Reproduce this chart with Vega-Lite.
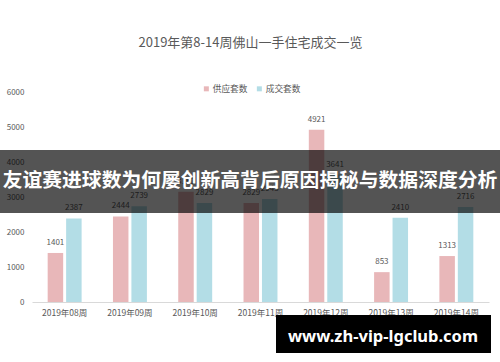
{
  "$schema": "https://vega.github.io/schema/vega-lite/v6.json",
  "width": 457,
  "height": 210,
  "autosize": "none",
  "padding": {"left": 32, "top": 92, "right": 11, "bottom": 60},
  "background": "white",
  "config": {
    "font": "Noto Sans CJK SC",
    "view": {"stroke": null}
  },
  "title": {
    "text": "2019年第8-14周佛山一手住宅成交一览",
    "fontSize": 13,
    "fontWeight": "normal",
    "color": "#595959",
    "anchor": "middle",
    "offset": 34,
    "dx": -10
  },
  "datasets": {
    "weeks": [
      {"week": "2019年08周", "series": "供应套数", "value": 1401},
      {"week": "2019年08周", "series": "成交套数", "value": 2387},
      {"week": "2019年09周", "series": "供应套数", "value": 2444},
      {"week": "2019年09周", "series": "成交套数", "value": 2739},
      {"week": "2019年10周", "series": "供应套数", "value": 3151},
      {"week": "2019年10周", "series": "成交套数", "value": 2829},
      {"week": "2019年11周", "series": "供应套数", "value": 2829},
      {"week": "2019年11周", "series": "成交套数", "value": 2943},
      {"week": "2019年12周", "series": "供应套数", "value": 4921},
      {"week": "2019年12周", "series": "成交套数", "value": 3641},
      {"week": "2019年13周", "series": "供应套数", "value": 853},
      {"week": "2019年13周", "series": "成交套数", "value": 2410},
      {"week": "2019年14周", "series": "供应套数", "value": 1313},
      {"week": "2019年14周", "series": "成交套数", "value": 2716}
    ],
    "one": [{"k": 1}]
  },
  "layer": [
    {
      "data": {"name": "weeks"},
      "encoding": {
        "x": {
          "field": "week",
          "type": "nominal",
          "sort": null,
          "scale": {"paddingInner": 0.48, "paddingOuter": 0.24},
          "axis": {
            "title": null,
            "labelAngle": 0,
            "labelFontSize": 8.5,
            "labelColor": "#595959",
            "labelPadding": 6,
            "ticks": false,
            "domainColor": "#d9d9d9",
            "domainWidth": 1
          }
        },
        "y": {
          "field": "value",
          "type": "quantitative",
          "scale": {"domain": [0, 6000], "nice": false},
          "axis": {
            "title": null,
            "values": [0, 1000, 2000, 3000, 4000, 5000, 6000],
            "labelExpr": "replace(datum.label, ',', '')",
            "labelOverlap": false,
            "labelFontSize": 8,
            "labelColor": "#595959",
            "labelPadding": 8,
            "ticks": false,
            "domain": false,
            "grid": false
          }
        },
        "xOffset": {
          "field": "series",
          "type": "nominal",
          "sort": ["供应套数", "成交套数"],
          "scale": {"paddingInner": 0.16, "paddingOuter": 0}
        }
      },
      "layer": [
        {
          "mark": {"type": "bar"},
          "encoding": {
            "color": {
              "field": "series",
              "type": "nominal",
              "sort": ["供应套数", "成交套数"],
              "scale": {"domain": ["供应套数", "成交套数"], "range": ["#e8b7b9", "#b3dde6"]},
              "legend": {
                "title": null,
                "orient": "none",
                "legendX": 170,
                "legendY": -8,
                "direction": "horizontal",
                "symbolType": "square",
                "symbolSize": 25,
                "labelFontSize": 8.7,
                "labelColor": "#595959",
                "labelOffset": 2,
                "columnPadding": 7,
                "symbolStrokeWidth": 0
              }
            }
          }
        },
        {
          "mark": {"type": "text", "dy": -6, "fontSize": 8, "color": "#595959", "baseline": "bottom"},
          "encoding": {
            "text": {"field": "value", "type": "quantitative", "format": "d"}
          }
        }
      ]
    },
    {
      "data": {"name": "one"},
      "mark": {"type": "rect", "x": -32, "x2": {"expr": "width + 11"}, "y": {"expr": "scale('y', 4343)"}, "y2": {"expr": "scale('y', 2543)"}, "color": "#000000", "opacity": 0.67},
      "encoding": {}
    },
    {
      "data": {"name": "one"},
      "mark": {"type": "text", "x": {"expr": "width / 2 - 10.5"}, "y": {"expr": "scale('y', 3460)"}, "text": "友谊赛进球数为何屡创新高背后原因揭秘与数据深度分析", "fontSize": 19.8, "fontWeight": "bold", "color": "#ffffff", "align": "center", "baseline": "middle"},
      "encoding": {}
    },
    {
      "data": {"name": "one"},
      "mark": {"type": "rect", "x": 244, "x2": 459, "y": {"expr": "scale('y', -371)"}, "y2": {"expr": "scale('y', -1457)"}, "color": "#000000"},
      "encoding": {}
    },
    {
      "data": {"name": "one"},
      "mark": {"type": "text", "x": 351, "y": {"expr": "scale('y', -1000)"}, "text": "www.zh-vip-lgclub.com", "fontSize": 16.5, "fontWeight": "bold", "font": "Noto Sans", "color": "#ffffff", "align": "center", "baseline": "middle"},
      "encoding": {}
    }
  ]
}
